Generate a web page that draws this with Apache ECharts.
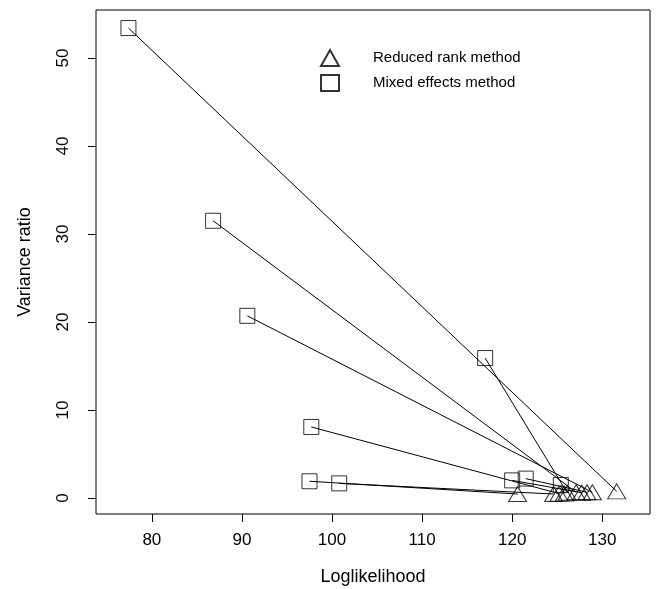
<!DOCTYPE html>
<html>
<head>
<meta charset="utf-8">
<script src="https://cdn.jsdelivr.net/npm/echarts@6/dist/echarts.min.js"></script>
<style>
  html, body { margin: 0; padding: 0; background: #fff; }
  #chart { width: 656px; height: 589px; }
</style>
</head>
<body>
<div id="chart"></div>
<script>
// Paired fits: each mixed effects estimate is joined to the reduced rank estimate of the same data set.
const mixedLogLik      = [77.4, 86.8, 90.6, 97.7, 97.5, 100.8, 120.0, 121.5, 117.0, 125.4];
const mixedVarRatio    = [53.4, 31.5, 20.7, 8.07, 1.9, 1.66, 2.0, 2.2, 15.9, 1.48];
const reducedLogLik    = [131.6, 127.1, 128.9, 125.2, 120.6, 124.6, 127.7, 128.3, 126.1, 125.8];
const reducedVarRatio  = [0.75, 0.65, 0.65, 0.5, 0.45, 0.45, 0.6, 0.65, 0.6, 0.5];

const xTicks = [80, 90, 100, 110, 120, 130];
const yTicks = [0, 10, 20, 30, 40, 50];

const seriesNames = ['Reduced rank method', 'Mixed effects method'];

const fontFamily = '"Liberation Sans", Arial, sans-serif';

const chart = echarts.init(document.getElementById('chart'), null, { renderer: 'canvas' });

const pairSeries = mixedLogLik.map((x, i) => ({
  type: 'line',
  data: [[x, mixedVarRatio[i]], [reducedLogLik[i], reducedVarRatio[i]]],
  symbol: 'none',
  silent: true,
  lineStyle: { color: '#000', width: 1 },
  z: 3
}));

const hollow = { color: 'rgba(255,255,255,0)', borderColor: '#000', borderWidth: 1 };

const option = {
  animation: false,
  backgroundColor: '#fff',
  grid: {
    left: 96, right: 6, top: 10, bottom: 75,
    outerBoundsMode: 'none',
    show: true, borderColor: '#000', borderWidth: 1, backgroundColor: 'transparent'
  },
  legend: {
    orient: 'vertical',
    left: 315, top: 44,
    itemWidth: 18, itemHeight: 16, itemGap: 7,
    data: seriesNames,
    textStyle: { fontFamily, fontSize: 15, color: '#000', padding: [0, 0, 0, 29] }
  },
  xAxis: {
    type: 'value',
    min: 73.8, max: 135.3,
    name: 'Loglikelihood',
    nameLocation: 'middle',
    nameGap: 54,
    nameTextStyle: { fontFamily, fontSize: 18, color: '#000' },
    axisLine: { show: false, onZero: false },
    splitLine: { show: false },
    axisTick: { show: true, inside: false, length: 8, customValues: xTicks, lineStyle: { color: '#000' } },
    axisLabel: { customValues: xTicks, fontFamily, fontSize: 17, color: '#000', margin: 18 }
  },
  yAxis: {
    type: 'value',
    min: -1.82, max: 55.45,
    name: 'Variance ratio',
    nameLocation: 'middle',
    nameGap: 62,
    nameRotate: 90,
    nameTextStyle: { fontFamily, fontSize: 18, color: '#000' },
    axisLine: { show: false, onZero: false },
    splitLine: { show: false },
    axisTick: { show: true, inside: false, length: 8, customValues: yTicks, lineStyle: { color: '#000' } },
    axisLabel: { customValues: yTicks, rotate: 90, fontFamily, fontSize: 17, color: '#000', margin: 24 }
  },
  series: [
    ...pairSeries,
    {
      name: seriesNames[0],
      type: 'scatter',
      symbol: 'triangle',
      symbolSize: [18, 15],
      data: reducedLogLik.map((x, i) => [x, reducedVarRatio[i]]),
      itemStyle: hollow,
      z: 4
    },
    {
      name: seriesNames[1],
      type: 'scatter',
      symbol: 'rect',
      symbolSize: 15,
      data: mixedLogLik.map((x, i) => [x, mixedVarRatio[i]]),
      itemStyle: hollow,
      z: 4
    }
  ]
};

chart.setOption(option);
</script>
</body>
</html>
